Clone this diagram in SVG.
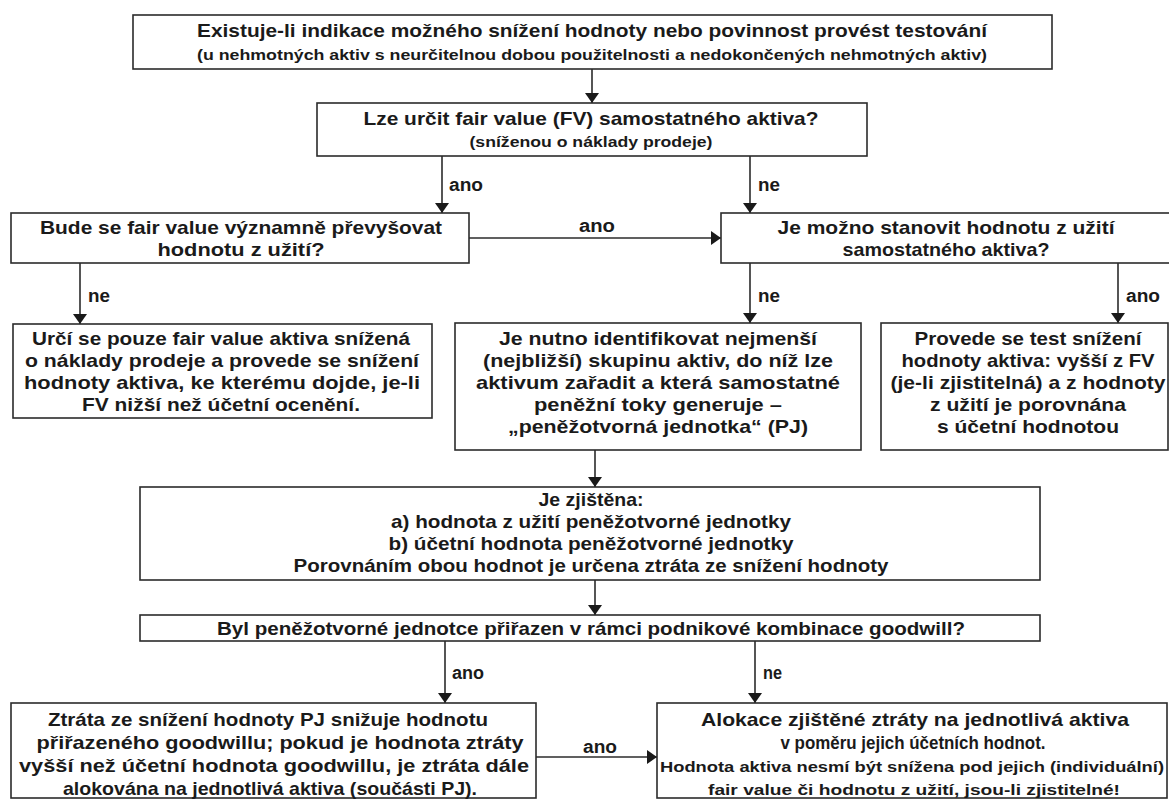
<svg xmlns="http://www.w3.org/2000/svg" width="1169" height="799" viewBox="0 0 1169 799">
<defs>
<style>
.box{fill:#fff;stroke:#2b2b2b;stroke-width:1.6}
.t{font-family:"Liberation Sans",Arial,sans-serif;font-weight:700;fill:#1a1a1a;text-anchor:middle}
.s19{font-size:19px}
.s15{font-size:15px}
.lbl{font-family:"Liberation Sans",Arial,sans-serif;font-weight:700;font-size:18px;fill:#1a1a1a}
.c{stroke:#2b2b2b;stroke-width:1.6;fill:none}
</style>
<marker id="ah" markerUnits="userSpaceOnUse" markerWidth="10" markerHeight="14" refX="10" refY="7" orient="auto">
<path d="M0,0 L10,7 L0,14 z" fill="#1a1a1a"/>
</marker>
</defs>
<rect width="1169" height="799" fill="#fff"/>

<g id="connectors">
<line class="c" x1="592" y1="69" x2="592" y2="103" marker-end="url(#ah)"/>
<line class="c" x1="442" y1="156" x2="442" y2="213" marker-end="url(#ah)"/>
<line class="c" x1="750" y1="156" x2="750" y2="213" marker-end="url(#ah)"/>
<line class="c" x1="469" y1="238" x2="721" y2="238" marker-end="url(#ah)"/>
<line class="c" x1="80" y1="263" x2="80" y2="324" marker-end="url(#ah)"/>
<line class="c" x1="750" y1="263" x2="750" y2="323" marker-end="url(#ah)"/>
<line class="c" x1="1118" y1="263" x2="1118" y2="323" marker-end="url(#ah)"/>
<line class="c" x1="595" y1="450" x2="595" y2="487" marker-end="url(#ah)"/>
<line class="c" x1="595" y1="580" x2="595" y2="615" marker-end="url(#ah)"/>
<line class="c" x1="445" y1="641" x2="445" y2="703" marker-end="url(#ah)"/>
<line class="c" x1="755" y1="641" x2="755" y2="703" marker-end="url(#ah)"/>
<line class="c" x1="536" y1="757" x2="657" y2="757" marker-end="url(#ah)"/>
<text class="lbl" x="449" y="191" textLength="34" lengthAdjust="spacingAndGlyphs">ano</text>
<text class="lbl" x="758" y="191" textLength="22" lengthAdjust="spacingAndGlyphs">ne</text>
<text class="lbl" x="597" y="232" text-anchor="middle" textLength="36" lengthAdjust="spacingAndGlyphs">ano</text>
<text class="lbl" x="88" y="302" textLength="22" lengthAdjust="spacingAndGlyphs">ne</text>
<text class="lbl" x="758" y="302" textLength="22" lengthAdjust="spacingAndGlyphs">ne</text>
<text class="lbl" x="1126" y="302" textLength="34" lengthAdjust="spacingAndGlyphs">ano</text>
<text class="lbl" x="452" y="679" textLength="32" lengthAdjust="spacingAndGlyphs">ano</text>
<text class="lbl" x="763" y="679" textLength="19" lengthAdjust="spacingAndGlyphs">ne</text>
<text class="lbl" x="600" y="753" text-anchor="middle" textLength="34" lengthAdjust="spacingAndGlyphs">ano</text>
</g>

<g id="n1">
<rect class="box" x="133" y="15" width="919" height="54"/>
<text class="t s19" x="592" y="37" textLength="790" lengthAdjust="spacingAndGlyphs">Existuje-li indikace možného snížení hodnoty nebo povinnost provést testování</text>
<text class="t s15" x="592" y="60" textLength="790" lengthAdjust="spacingAndGlyphs">(u nehmotných aktiv s neurčitelnou dobou použitelnosti a nedokončených nehmotných aktiv)</text>
</g>

<g id="n2">
<rect class="box" x="317" y="103" width="550" height="53"/>
<text class="t s19" x="591" y="125" textLength="455" lengthAdjust="spacingAndGlyphs">Lze určit fair value (FV) samostatného aktiva?</text>
<text class="t s15" x="591" y="147" textLength="243" lengthAdjust="spacingAndGlyphs">(sníženou o náklady prodeje)</text>
</g>

<g id="n3">
<rect class="box" x="11" y="213" width="458" height="50"/>
<text class="t s19" x="241" y="234" textLength="402" lengthAdjust="spacingAndGlyphs">Bude se fair value významně převyšovat</text>
<text class="t s19" x="241" y="256" textLength="167" lengthAdjust="spacingAndGlyphs">hodnotu z užití?</text>
</g>

<g id="n4">
<rect class="box" x="721" y="213" width="460" height="50"/>
<text class="t s19" x="946" y="234" textLength="337" lengthAdjust="spacingAndGlyphs">Je možno stanovit hodnotu z užití</text>
<text class="t s19" x="946" y="256" textLength="207" lengthAdjust="spacingAndGlyphs">samostatného aktiva?</text>
</g>

<g id="n5">
<rect class="box" x="13" y="324" width="419" height="94"/>
<text class="t s19" x="221" y="345" textLength="378" lengthAdjust="spacingAndGlyphs">Určí se pouze fair value aktiva snížená</text>
<text class="t s19" x="222" y="367" textLength="394" lengthAdjust="spacingAndGlyphs">o náklady prodeje a provede se snížení</text>
<text class="t s19" x="222" y="389" textLength="396" lengthAdjust="spacingAndGlyphs">hodnoty aktiva, ke kterému dojde, je-li</text>
<text class="t s19" x="221" y="411" textLength="278" lengthAdjust="spacingAndGlyphs">FV nižší než účetní ocenění.</text>
</g>

<g id="n6">
<rect class="box" x="455" y="323" width="406" height="127"/>
<text class="t s19" x="658" y="345" textLength="318" lengthAdjust="spacingAndGlyphs">Je nutno identifikovat nejmenší</text>
<text class="t s19" x="658" y="367" textLength="350" lengthAdjust="spacingAndGlyphs">(nejbližší) skupinu aktiv, do níž lze</text>
<text class="t s19" x="658" y="389" textLength="364" lengthAdjust="spacingAndGlyphs">aktivum zařadit a která samostatné</text>
<text class="t s19" x="658" y="411" textLength="248" lengthAdjust="spacingAndGlyphs">peněžní toky generuje –</text>
<text class="t s19" x="658" y="433" textLength="300" lengthAdjust="spacingAndGlyphs">„peněžotvorná jednotka“ (PJ)</text>
</g>

<g id="n7">
<rect class="box" x="881" y="323" width="287" height="127"/>
<text class="t s19" x="1028" y="345" textLength="227" lengthAdjust="spacingAndGlyphs">Provede se test snížení</text>
<text class="t s19" x="1028" y="367" textLength="253" lengthAdjust="spacingAndGlyphs">hodnoty aktiva: vyšší z FV</text>
<text class="t s19" x="1028" y="389" textLength="275" lengthAdjust="spacingAndGlyphs">(je-li zjistitelná) a z hodnoty</text>
<text class="t s19" x="1028" y="411" textLength="196" lengthAdjust="spacingAndGlyphs">z užití je porovnána</text>
<text class="t s19" x="1028" y="433" textLength="182" lengthAdjust="spacingAndGlyphs">s účetní hodnotou</text>
</g>

<g id="n8">
<rect class="box" x="140" y="487" width="900" height="93"/>
<text class="t s19" x="591" y="506" textLength="105" lengthAdjust="spacingAndGlyphs">Je zjištěna:</text>
<text class="t s19" x="591" y="528" textLength="400" lengthAdjust="spacingAndGlyphs">a) hodnota z užití peněžotvorné jednotky</text>
<text class="t s19" x="591" y="550" textLength="405" lengthAdjust="spacingAndGlyphs">b) účetní hodnota peněžotvorné jednotky</text>
<text class="t s19" x="591" y="572" textLength="595" lengthAdjust="spacingAndGlyphs">Porovnáním obou hodnot je určena ztráta ze snížení hodnoty</text>
</g>

<g id="n9">
<rect class="box" x="140" y="615" width="900" height="26"/>
<text class="t s19" x="591" y="635" textLength="748" lengthAdjust="spacingAndGlyphs">Byl peněžotvorné jednotce přiřazen v rámci podnikové kombinace goodwill?</text>
</g>

<g id="n10">
<rect class="box" x="11" y="703" width="525" height="95"/>
<text class="t s19" x="268" y="726" textLength="440" lengthAdjust="spacingAndGlyphs">Ztráta ze snížení hodnoty PJ snižuje hodnotu</text>
<text class="t s19" x="280" y="749" textLength="487" lengthAdjust="spacingAndGlyphs">přiřazeného goodwillu; pokud je hodnota ztráty</text>
<text class="t s19" x="274" y="772" textLength="510" lengthAdjust="spacingAndGlyphs">vyšší než účetní hodnota goodwillu, je ztráta dále</text>
<text class="t s19" x="270" y="795" textLength="414" lengthAdjust="spacingAndGlyphs">alokována na jednotlivá aktiva (součásti PJ).</text>
</g>

<g id="n11">
<rect class="box" x="657" y="703" width="510" height="95"/>
<text class="t s19" x="915" y="726" textLength="428" lengthAdjust="spacingAndGlyphs">Alokace zjištěné ztráty na jednotlivá aktiva</text>
<text class="t s19" x="913" y="749" textLength="265" lengthAdjust="spacingAndGlyphs">v poměru jejich účetních hodnot.</text>
<text class="t s15" x="912" y="772" textLength="504" lengthAdjust="spacingAndGlyphs">Hodnota aktiva nesmí být snížena pod jejich (individuální)</text>
<text class="t s15" x="914" y="795" textLength="412" lengthAdjust="spacingAndGlyphs">fair value či hodnotu z užití, jsou-li zjistitelné!</text>
</g>
</svg>
